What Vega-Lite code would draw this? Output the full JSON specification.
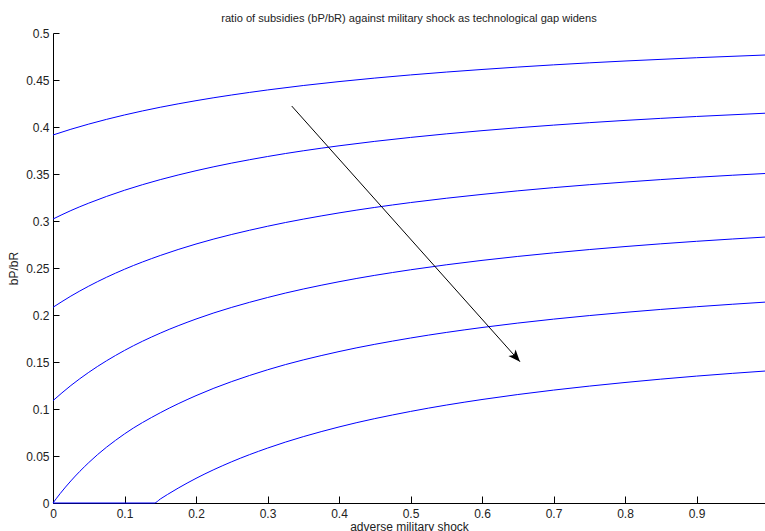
{
  "$schema": "https://vega.github.io/schema/vega-lite/v6.json",
  "width": 712,
  "height": 470,
  "autosize": {"type": "none"},
  "padding": {"left": 53, "top": 33, "right": 0, "bottom": 28},
  "background": "white",
  "config": {
    "view": {"stroke": null},
    "font": "Liberation Sans",
    "axis": {
      "grid": false,
      "domainColor": "#000000",
      "domainWidth": 1,
      "tickColor": "#000000",
      "tickWidth": 1,
      "labelColor": "#222222",
      "labelFont": "Liberation Sans",
      "labelFontSize": 12,
      "labelFlush": false,
      "labelOverlap": false,
      "titleFont": "Liberation Sans",
      "titleFontSize": 12,
      "titleFontWeight": "normal",
      "titleColor": "#222222",
      "zindex": 0
    }
  },
  "title": {
    "text": "ratio of subsidies (bP/bR) against military shock as technological gap widens",
    "font": "Liberation Sans",
    "fontSize": 11.1,
    "fontWeight": "normal",
    "color": "#222222",
    "anchor": "middle",
    "frame": "group",
    "baseline": "alphabetic",
    "offset": -6
  },
  "datasets": {
    "curves": [
      {"s": 1, "x": 0, "y": 0.3915}, {"s": 1, "x": 0.025, "y": 0.3976}, {"s": 1, "x": 0.05, "y": 0.4031}, {"s": 1, "x": 0.1, "y": 0.4128}, {"s": 1, "x": 0.15, "y": 0.4210}, {"s": 1, "x": 0.2, "y": 0.4280}, {"s": 1, "x": 0.3, "y": 0.4394}, {"s": 1, "x": 0.4, "y": 0.4483}, {"s": 1, "x": 0.5, "y": 0.4554}, {"s": 1, "x": 0.6, "y": 0.4612}, {"s": 1, "x": 0.7, "y": 0.4661}, {"s": 1, "x": 0.8, "y": 0.4702}, {"s": 1, "x": 0.9, "y": 0.4737}, {"s": 1, "x": 1.0, "y": 0.4767},
      {"s": 2, "x": 0, "y": 0.3021}, {"s": 2, "x": 0.025, "y": 0.3111}, {"s": 2, "x": 0.05, "y": 0.3190}, {"s": 2, "x": 0.1, "y": 0.3327}, {"s": 2, "x": 0.15, "y": 0.3440}, {"s": 2, "x": 0.2, "y": 0.3535}, {"s": 2, "x": 0.3, "y": 0.3686}, {"s": 2, "x": 0.4, "y": 0.3800}, {"s": 2, "x": 0.5, "y": 0.3889}, {"s": 2, "x": 0.6, "y": 0.3961}, {"s": 2, "x": 0.7, "y": 0.4020}, {"s": 2, "x": 0.8, "y": 0.4070}, {"s": 2, "x": 0.9, "y": 0.4112}, {"s": 2, "x": 1.0, "y": 0.4148},
      {"s": 3, "x": 0, "y": 0.2082}, {"s": 3, "x": 0.025, "y": 0.2201}, {"s": 3, "x": 0.05, "y": 0.2307}, {"s": 3, "x": 0.1, "y": 0.2487}, {"s": 3, "x": 0.15, "y": 0.2633}, {"s": 3, "x": 0.2, "y": 0.2755}, {"s": 3, "x": 0.3, "y": 0.2944}, {"s": 3, "x": 0.4, "y": 0.3086}, {"s": 3, "x": 0.5, "y": 0.3196}, {"s": 3, "x": 0.6, "y": 0.3283}, {"s": 3, "x": 0.7, "y": 0.3355}, {"s": 3, "x": 0.8, "y": 0.3414}, {"s": 3, "x": 0.9, "y": 0.3465}, {"s": 3, "x": 1.0, "y": 0.3507},
      {"s": 4, "x": 0, "y": 0.1089}, {"s": 4, "x": 0.025, "y": 0.1250}, {"s": 4, "x": 0.05, "y": 0.1390}, {"s": 4, "x": 0.1, "y": 0.1623}, {"s": 4, "x": 0.15, "y": 0.1807}, {"s": 4, "x": 0.2, "y": 0.1957}, {"s": 4, "x": 0.3, "y": 0.2186}, {"s": 4, "x": 0.4, "y": 0.2354}, {"s": 4, "x": 0.5, "y": 0.2481}, {"s": 4, "x": 0.6, "y": 0.2581}, {"s": 4, "x": 0.7, "y": 0.2661}, {"s": 4, "x": 0.8, "y": 0.2728}, {"s": 4, "x": 0.9, "y": 0.2784}, {"s": 4, "x": 1.0, "y": 0.2831},
      {"s": 5, "x": 0, "y": 0}, {"s": 5, "x": 0.01, "y": 0.0100}, {"s": 5, "x": 0.025, "y": 0.0235}, {"s": 5, "x": 0.05, "y": 0.0430}, {"s": 5, "x": 0.1, "y": 0.0735}, {"s": 5, "x": 0.15, "y": 0.0960}, {"s": 5, "x": 0.2, "y": 0.1142}, {"s": 5, "x": 0.3, "y": 0.1417}, {"s": 5, "x": 0.4, "y": 0.1611}, {"s": 5, "x": 0.5, "y": 0.1755}, {"s": 5, "x": 0.6, "y": 0.1867}, {"s": 5, "x": 0.7, "y": 0.1956}, {"s": 5, "x": 0.8, "y": 0.2028}, {"s": 5, "x": 0.9, "y": 0.2088}, {"s": 5, "x": 1.0, "y": 0.2139},
      {"s": 6, "x": 0, "y": 0}, {"s": 6, "x": 0.1417, "y": 0}, {"s": 6, "x": 0.15, "y": 0.0042}, {"s": 6, "x": 0.16, "y": 0.009}, {"s": 6, "x": 0.175, "y": 0.0158}, {"s": 6, "x": 0.2, "y": 0.0262}, {"s": 6, "x": 0.25, "y": 0.0439}, {"s": 6, "x": 0.3, "y": 0.0584}, {"s": 6, "x": 0.4, "y": 0.0809}, {"s": 6, "x": 0.5, "y": 0.0974}, {"s": 6, "x": 0.6, "y": 0.1101}, {"s": 6, "x": 0.7, "y": 0.1201}, {"s": 6, "x": 0.8, "y": 0.1282}, {"s": 6, "x": 0.9, "y": 0.1350}, {"s": 6, "x": 1.0, "y": 0.1406}
    ],
    "arrow": [
      {"x": 0.3339, "y": 0.4223, "x2": 0.6531, "y2": 0.1503}
    ]
  },
  "layer": [
    {
      "data": {"name": "curves"},
      "mark": {"type": "line", "color": "#0000ff", "strokeWidth": 1, "interpolate": "monotone", "clip": false},
      "encoding": {
        "x": {
          "field": "x", "type": "quantitative",
          "scale": {"domain": [0, 0.9958], "nice": false, "zero": false},
          "axis": {
            "title": "adverse military shock",
            "values": [0, 0.1, 0.2, 0.3, 0.4, 0.5, 0.6, 0.7, 0.8, 0.9],
            "format": "~g",
            "tickSize": -7,
            "labelPadding": 12,
            "titlePadding": 2
          }
        },
        "y": {
          "field": "y", "type": "quantitative",
          "scale": {"domain": [0, 0.5], "nice": false},
          "axis": {
            "title": "bP/bR",
            "values": [0, 0.05, 0.1, 0.15, 0.2, 0.25, 0.3, 0.35, 0.4, 0.45, 0.5],
            "format": "~g",
            "tickSize": -6,
            "labelPadding": 10,
            "titlePadding": 5
          }
        },
        "detail": {"field": "s", "type": "nominal"}
      }
    },
    {
      "data": {"name": "arrow"},
      "mark": {"type": "rule", "color": "#000000", "strokeWidth": 1},
      "encoding": {
        "x": {"field": "x", "type": "quantitative"},
        "y": {"field": "y", "type": "quantitative"},
        "x2": {"field": "x2"},
        "y2": {"field": "y2"}
      }
    },
    {
      "data": {"name": "arrow"},
      "mark": {"type": "point", "shape": "M0,0 L0.4,1 L0,0.75 L-0.4,1 Z", "filled": true, "color": "#000000", "opacity": 1, "size": 576, "angle": 138.3},
      "encoding": {
        "x": {"field": "x2", "type": "quantitative"},
        "y": {"field": "y2", "type": "quantitative"}
      }
    }
  ]
}
